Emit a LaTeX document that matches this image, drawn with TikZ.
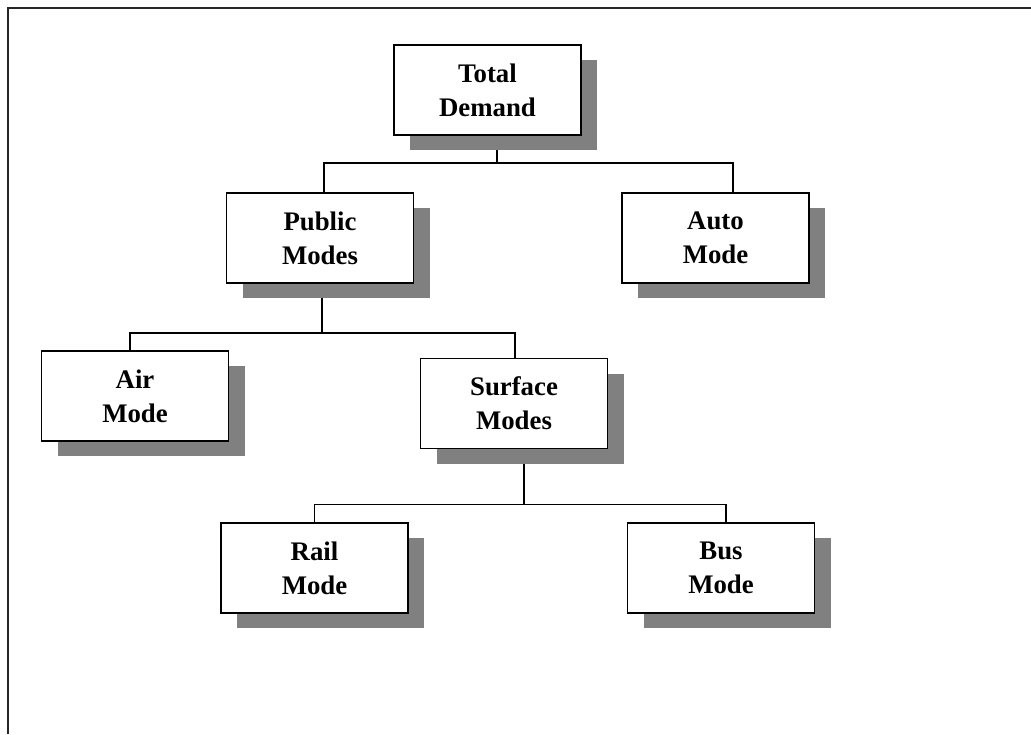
\documentclass[tikz,border=0pt]{standalone}
\usepackage{fontspec}
\setmainfont{Liberation Serif}
\usetikzlibrary{shadows,backgrounds}

\begin{document}
\begin{tikzpicture}[x=0.5pt,y=-0.5pt]

%
% Styles
%
\tikzstyle{modebox} = [rectangle,draw=black,fill=white,line width=0.9pt,
  minimum width=93.5pt,minimum height=45pt,inner sep=0pt,align=center,
  font=\fontsize{13.4}{17}\selectfont\bfseries,
  drop shadow={shadow xshift=8pt,shadow yshift=-7.5pt,fill=black!50,opacity=1}]
\tikzstyle{link} = [draw=black,line width=0.9pt]

\useasboundingbox (0,0) rectangle (1031,734);
\draw[line width=1.2pt,black!85] (8,734) -- (8,8) -- (1031,8);

\node[modebox] (total)   at (487.5, 90)  {Total\\Demand};
\node[modebox] (public)  at (320, 238)   {Public\\Modes};
\node[modebox] (auto)    at (715.5, 238) {Auto\\Mode};
\node[modebox] (air)     at (135, 396)   {Air\\Mode};
\node[modebox] (surface) at (514, 403.5) {Surface\\Modes};
\node[modebox] (rail)    at (314.5, 568) {Rail\\Mode};
\node[modebox] (bus)     at (721, 568)   {Bus\\Mode};

\begin{scope}[on background layer]
\draw[link] ([xshift=4.75pt]total.south) -- ++(0,27) -| ([xshift=2pt]public.north);
\draw[link] ([xshift=4.75pt]total.south) -- ++(0,27) -| ([xshift=8.75pt]auto.north);
\draw[link] ([xshift=1pt]public.south) -- ++(0,49) -| ([xshift=-2.5pt]air.north);
\draw[link] ([xshift=1pt]public.south) -- ++(0,49) -| ([xshift=0.5pt]surface.north);
\draw[link] ([xshift=5pt]surface.south) -- ++(0,55) -| (rail.north);
\draw[link] ([xshift=5pt]surface.south) -- ++(0,55) -| ([xshift=2.5pt]bus.north);
\end{scope}

\end{tikzpicture}
\end{document}
